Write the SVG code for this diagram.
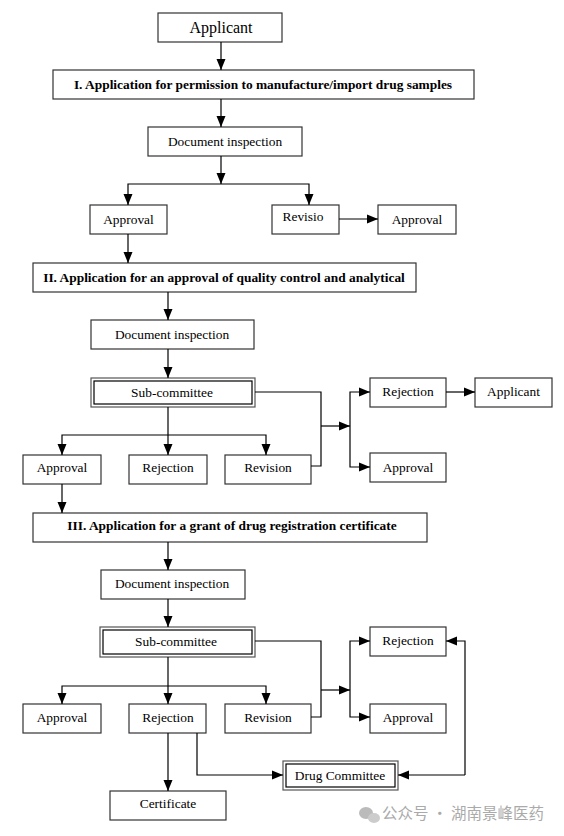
<svg xmlns="http://www.w3.org/2000/svg" width="564" height="836" viewBox="0 0 564 836">
<defs>
<marker id="ah" markerUnits="userSpaceOnUse" markerWidth="12" markerHeight="12" viewBox="0 0 12 12" refX="11" refY="6" orient="auto">
<path d="M0,1.5 L11,6 L0,10.5 Z" fill="#000"/>
</marker>
<style>
rect.b{fill:#fff;stroke:#333;stroke-width:1.2}
rect.o{fill:#fff;stroke:#555;stroke-width:1.2}
rect.i{fill:none;stroke:#000;stroke-width:1.2}
text{font-family:"Liberation Serif","Times New Roman",serif;font-size:13.4px;fill:#000;text-anchor:middle}
text.t{font-weight:bold;font-size:13.4px}
text.big{font-size:16px}
.c path{fill:none;stroke:#000;stroke-width:1.2}
.c path.a{marker-end:url(#ah)}
</style>
</defs>
<rect width="564" height="836" fill="#fff"/>

<g id="n-applicant"><rect class="b" x="158" y="13" width="124" height="29"/><text class="big" x="221" y="33">Applicant</text></g>
<g id="n-step1"><rect class="b" x="53" y="70" width="421" height="29"/><text class="t" x="263" y="89">I. Application for permission to manufacture/import drug samples</text></g>
<g id="n-doc1"><rect class="b" x="148" y="127" width="154" height="29"/><text x="225" y="146">Document inspection</text></g>
<g id="n-approval1"><rect class="b" x="90" y="205" width="77" height="29"/><text x="128.5" y="224">Approval</text></g>
<g id="n-revisio"><rect class="b" x="272" y="205" width="67" height="29"/><text x="303" y="221">Revisio</text></g>
<g id="n-approval1b"><rect class="b" x="378" y="205" width="78" height="29"/><text x="417" y="224">Approval</text></g>

<g id="n-step2"><rect class="b" x="33" y="263" width="383" height="29"/><text class="t" x="224" y="282">II. Application for an approval of quality control and analytical</text></g>
<g id="n-doc2"><rect class="b" x="91" y="320" width="163" height="29"/><text x="172" y="339">Document inspection</text></g>
<g id="n-sub2"><rect class="o" x="91" y="378" width="164" height="29"/><rect class="i" x="94" y="381" width="158" height="23"/><text x="172" y="397">Sub-committee</text></g>
<g id="n-approval2"><rect class="b" x="23" y="455" width="78" height="29"/><text x="62" y="472">Approval</text></g>
<g id="n-rejection2"><rect class="b" x="129" y="455" width="78" height="29"/><text x="168" y="472">Rejection</text></g>
<g id="n-revision2"><rect class="b" x="225" y="455" width="86" height="29"/><text x="268" y="472">Revision</text></g>
<g id="n-rejection2b"><rect class="b" x="370" y="378" width="76" height="29"/><text x="408" y="396">Rejection</text></g>
<g id="n-applicant2"><rect class="b" x="475" y="378" width="77" height="29"/><text x="513.5" y="396">Applicant</text></g>
<g id="n-approval2b"><rect class="b" x="370" y="453" width="76" height="29"/><text x="408" y="472">Approval</text></g>

<g id="n-step3"><rect class="b" x="33" y="513" width="394" height="29"/><text class="t" x="232" y="530">III. Application for a grant of drug registration certificate</text></g>
<g id="n-doc3"><rect class="b" x="101" y="570" width="144" height="29"/><text x="172" y="588">Document inspection</text></g>
<g id="n-sub3"><rect class="o" x="100" y="627" width="155" height="30"/><rect class="i" x="103" y="630" width="149" height="24"/><text x="176" y="646">Sub-committee</text></g>
<g id="n-approval3"><rect class="b" x="23" y="704" width="78" height="29"/><text x="62" y="722">Approval</text></g>
<g id="n-rejection3"><rect class="b" x="129" y="704" width="77" height="29"/><text x="168" y="722">Rejection</text></g>
<g id="n-revision3"><rect class="b" x="225" y="704" width="86" height="29"/><text x="268" y="722">Revision</text></g>
<g id="n-rejection3b"><rect class="b" x="370" y="627" width="76" height="29"/><text x="408" y="645">Rejection</text></g>
<g id="n-approval3b"><rect class="b" x="370" y="704" width="76" height="29"/><text x="408" y="722">Approval</text></g>
<g id="n-drugcommittee"><rect class="o" x="283" y="761" width="115" height="29"/><rect class="i" x="286" y="764" width="109" height="23"/><text x="340" y="780">Drug Committee</text></g>
<g id="n-certificate"><rect class="b" x="110" y="791" width="116" height="29"/><text x="168" y="808">Certificate</text></g>

<g id="connectors" class="c">
<path class="a" d="M221,42 V70"/>
<path class="a" d="M221,99 V127"/>
<path class="a" d="M221,156 V184"/>
<path class="a" d="M221,184 H128 V205"/>
<path class="a" d="M221,184 H309 V205"/>
<path class="a" d="M339,219 H378"/>
<path class="a" d="M128,234 V263"/>
<path class="a" d="M168,292 V320"/>
<path class="a" d="M168,349 V378"/>
<path class="a" d="M168,407 V455"/>
<path class="a" d="M168,435 H62 V455"/>
<path class="a" d="M168,435 H266 V455"/>
<path d="M255,392 H321 V466 H311"/>
<path class="a" d="M321,426 H350"/>
<path class="a" d="M350,426 V392 H370"/>
<path class="a" d="M350,426 V467 H370"/>
<path class="a" d="M446,392 H475"/>
<path class="a" d="M62,484 V513"/>
<path class="a" d="M168,542 V570"/>
<path class="a" d="M168,599 V627"/>
<path class="a" d="M168,657 V704"/>
<path class="a" d="M168,686 H62 V704"/>
<path class="a" d="M168,686 H266 V704"/>
<path d="M255,641 H321 V717 H311"/>
<path class="a" d="M321,690 H350"/>
<path class="a" d="M350,690 V641 H370"/>
<path class="a" d="M350,690 V717 H370"/>
<path class="a" d="M168,733 V791"/>
<path class="a" d="M197,733 V775 H283"/>
<path class="a" d="M465,775 V641 H446"/>
<path class="a" d="M465,775 H398"/>
</g>

<g id="watermark">
<ellipse cx="366" cy="813" rx="7" ry="6" fill="#bbb"/>
<ellipse cx="374" cy="818" rx="6" ry="5" fill="#ccc"/>
<text x="463" y="819" style="font-family:'Noto Sans CJK SC','Noto Sans',sans-serif;font-size:15.5px;fill:#aaa">公众号 · 湖南景峰医药</text>
</g>
</svg>
